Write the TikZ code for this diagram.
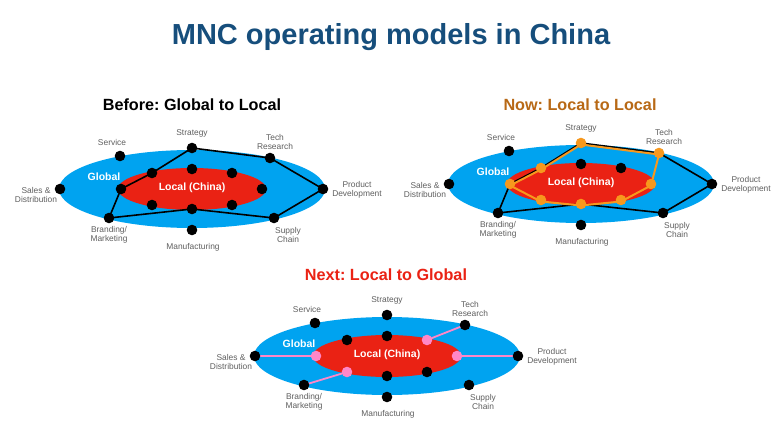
\documentclass[tikz,border=0pt]{standalone}
\usepackage{fontspec}
\setmainfont{Liberation Sans}
\frenchspacing
\definecolor{titleblue}{RGB}{22,78,124}
\definecolor{globalblue}{RGB}{0,163,240}
\definecolor{localred}{RGB}{234,34,20}
\definecolor{dotorange}{RGB}{247,152,29}
\definecolor{dotpink}{RGB}{255,135,200}
\definecolor{labelgray}{RGB}{95,95,95}
\definecolor{nowbrown}{RGB}{184,105,22}
\definecolor{nextred}{RGB}{234,34,20}
\pgfdeclarelayer{bg}
\pgfdeclarelayer{ell}
\pgfdeclarelayer{lines}
\pgfsetlayers{bg,ell,lines,main}
\tikzset{
  maintitle/.style={font=\fontsize{29}{34}\selectfont\bfseries, text=titleblue, inner sep=0pt},
  paneltitle/.style={font=\fontsize{16.2}{19}\selectfont\bfseries, text=black, inner sep=0pt},
  lbl/.style={font=\fontsize{8.4}{9.6}\selectfont, text=labelgray, align=center, inner sep=0pt},
  zone/.style={font=\fontsize{10.5}{12}\selectfont\bfseries, text=white, inner sep=0pt},
  dot/.style={circle, fill=black, inner sep=0pt, minimum size=10.6pt},
  od/.style={fill=dotorange},
  pd/.style={fill=dotpink},
  d svc/.style={}, d str/.style={}, d tech/.style={}, d sales/.style={},
  d prod/.style={}, d brand/.style={}, d sup/.style={}, d mfg/.style={},
  d iTL/.style={}, d iT/.style={}, d iTR/.style={}, d iL/.style={},
  d iR/.style={}, d iBL/.style={}, d iB/.style={}, d iBR/.style={},
  blackline/.style={draw=black, line width=1.6pt, line join=round},
  orangeline/.style={draw=dotorange, line width=2pt, line join=round},
  pinkline/.style={draw=dotpink, line width=1.8pt},
}
\newcommand\mncpanel[4]{%
\begin{scope}[shift={(#2,#3)},#4]
  \begin{pgfonlayer}{ell}
    \fill[globalblue] (0,0) ellipse [x radius=133pt, y radius=39pt];
    \fill[localred] (0,0) ellipse [x radius=74pt, y radius=21pt];
  \end{pgfonlayer}
  \node[zone] (#1-glob) at (-88,-12) {Global};
  \node[zone] (#1-loc) at (0,-1) {Local (China)};
  \node[lbl] (#1-lsvc) at (-80,-47) {Service};
  \node[lbl] (#1-lstr) at (0,-56) {Strategy};
  \node[lbl] (#1-ltech) at (83,-47) {Tech\\Research};
  \node[lbl] (#1-lsales) at (-156,6) {Sales \&\\Distribution};
  \node[lbl] (#1-lprod) at (165,1) {Product\\Development};
  \node[lbl] (#1-lbrand) at (-83,46) {Branding/\\Marketing};
  \node[lbl] (#1-lmfg) at (1,58) {Manufacturing};
  \node[lbl] (#1-lsup) at (96,46) {Supply\\Chain};
  \node[dot,d svc] (#1-svc) at (-72,-33) {};
  \node[dot,d str] (#1-str) at (0,-41) {};
  \node[dot,d tech] (#1-tech) at (78,-31) {};
  \node[dot,d sales] (#1-sales) at (-132,0) {};
  \node[dot,d prod] (#1-prod) at (131,0) {};
  \node[dot,d brand] (#1-brand) at (-83,29) {};
  \node[dot,d sup] (#1-sup) at (82,29) {};
  \node[dot,d mfg] (#1-mfg) at (0,41) {};
  \node[dot,d iTL] (#1-iTL) at (-40,-16) {};
  \node[dot,d iT] (#1-iT) at (0,-20) {};
  \node[dot,d iTR] (#1-iTR) at (40,-16) {};
  \node[dot,d iL] (#1-iL) at (-71,0) {};
  \node[dot,d iR] (#1-iR) at (70,0) {};
  \node[dot,d iBL] (#1-iBL) at (-40,16) {};
  \node[dot,d iB] (#1-iB) at (0,20) {};
  \node[dot,d iBR] (#1-iBR) at (40,16) {};
\end{scope}}
\begin{document}
\begin{tikzpicture}[x=1pt,y=-1pt]
\begin{pgfonlayer}{bg}
\fill[white] (0,0) rectangle (780,439);
\end{pgfonlayer}
\useasboundingbox (0,0) rectangle (780,439);
\node[maintitle] (title) at (391,37) {MNC operating models in China};
\node[paneltitle] (t1) at (192,105) {Before: Global to Local};
\node[paneltitle, text=nowbrown] (t2) at (580,105) {Now: Local to Local};
\node[paneltitle, text=nextred] (t3) at (386,275) {Next: Local to Global};
\mncpanel{p1}{192}{189}{}
\mncpanel{p2}{581}{184}{d str/.style=od, d tech/.style=od, d iTL/.style=od, d iL/.style=od, d iR/.style=od, d iBL/.style=od, d iB/.style=od, d iBR/.style=od}
\mncpanel{p3}{387}{356}{d iTR/.style=pd, d iL/.style=pd, d iR/.style=pd, d iBL/.style=pd}
\begin{pgfonlayer}{lines}
  \draw[blackline] (p1-str.center) -- (p1-tech.center) -- (p1-prod.center) -- (p1-sup.center) -- (p1-iB.center) -- (p1-brand.center) -- (p1-iL.center) -- (p1-iTL.center) -- cycle;
  \draw[blackline] (p2-str.center) -- (p2-tech.center) -- (p2-prod.center) -- (p2-sup.center) -- (p2-iB.center) -- (p2-brand.center) -- (p2-iL.center) -- (p2-iTL.center) -- cycle;
  \draw[orangeline] ([yshift=-1.5pt]p2-str.center) -- ([yshift=-1.5pt]p2-tech.center) -- ([yshift=-1.5pt]p2-iR.center) -- ([yshift=-1.5pt]p2-iBR.center) -- ([yshift=-1.5pt]p2-iB.center) -- ([yshift=-1.5pt]p2-iBL.center) -- ([yshift=-1.5pt]p2-iL.center) -- ([yshift=-1.5pt]p2-iTL.center) -- cycle;
  \draw[pinkline] (p3-sales.center) -- (p3-iL.center);
  \draw[pinkline] (p3-iTR.center) -- (p3-tech.center);
  \draw[pinkline] (p3-iR.center) -- (p3-prod.center);
  \draw[pinkline] (p3-brand.center) -- (p3-iBL.center);
\end{pgfonlayer}
\end{tikzpicture}
\end{document}
